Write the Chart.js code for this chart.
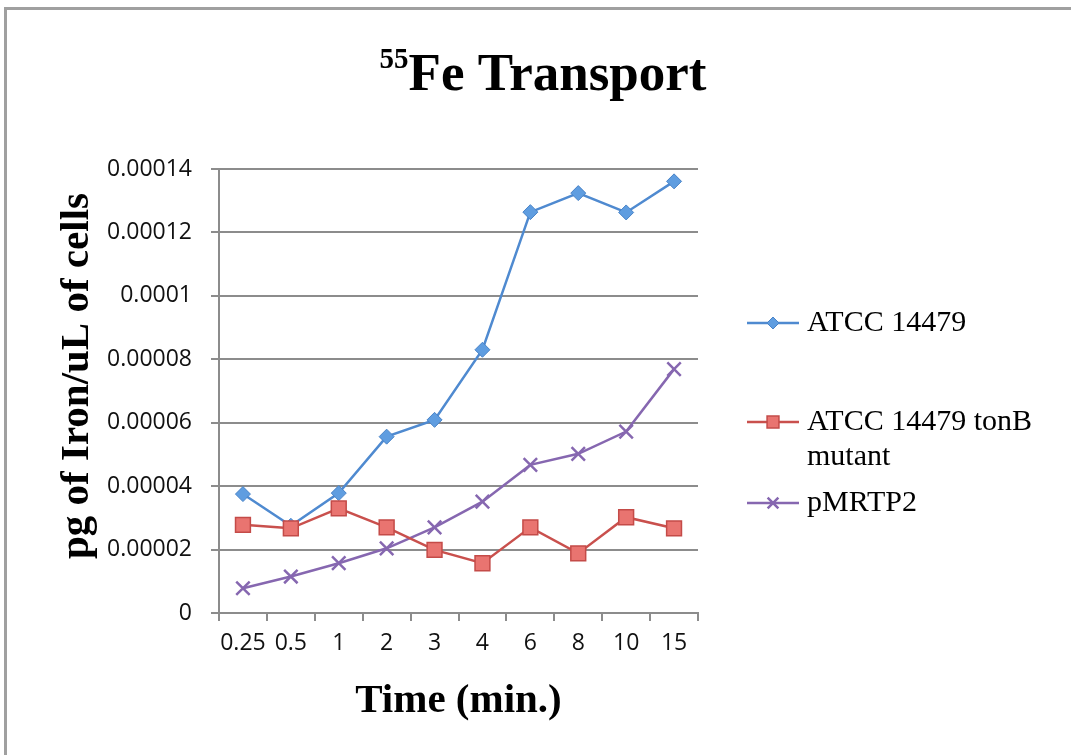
<!DOCTYPE html>
<html><head><meta charset="utf-8">
<script src="https://cdn.jsdelivr.net/npm/chart.js@4.4.1/dist/chart.umd.min.js"></script>
<style>html,body{margin:0;padding:0;background:#fff;}#wrap{width:1071px;height:755px;position:relative;}</style>
</head><body><div id="wrap"><canvas id="c" width="1071" height="755"></canvas></div>
<script>
const categories = ["0.25","0.5","1","2","3","4","6","8","10","15"];
const atcc14479 = [0.0000375,0.0000275,0.0000378,0.0000556,0.0000609,0.000083,0.0001264,0.0001324,0.0001263,0.0001361];
const tonBMutant = [0.0000278,0.0000267,0.000033,0.000027,0.0000199,0.0000157,0.000027,0.0000188,0.0000302,0.0000267];
const pMRTP2 = [0.0000078,0.0000115,0.0000157,0.0000204,0.000027,0.0000351,0.0000467,0.0000502,0.0000572,0.0000769];
const seriesNames = ["ATCC 14479","ATCC 14479 tonB mutant","pMRTP2"];
const legendLines = [["ATCC 14479"],["ATCC 14479 tonB","mutant"],["pMRTP2"]];
const yTickValues = [0,0.00002,0.00004,0.00006,0.00008,0.0001,0.00012,0.00014];
const yTickLabels = ["0","0.00002","0.00004","0.00006","0.00008","0.0001","0.00012","0.00014"];
const titleSup = "55";
const titleMain = "Fe Transport";
const xTitle = "Time (min.)";
const yTitle = "pg of Iron/uL of cells";

const GRID = '#8c8c8c';
const SERIF = "'Liberation Serif', 'Times New Roman', serif";
const SANS = "'Open Sans', 'Liberation Sans', sans-serif";

const frame = {
  id: 'frame',
  beforeDraw(chart) {
    const ctx = chart.ctx;
    ctx.save();
    ctx.fillStyle = '#fff';
    ctx.fillRect(0, 0, chart.width, chart.height);
    ctx.strokeStyle = '#a0a0a0';
    ctx.lineWidth = 3;
    ctx.beginPath();
    ctx.moveTo(5.5, chart.height + 2);
    ctx.lineTo(5.5, 8.5);
    ctx.lineTo(chart.width + 2, 8.5);
    ctx.stroke();
    ctx.restore();
  }
};

const titlePlugin = {
  id: 'supTitle',
  afterDraw(chart) {
    const ctx = chart.ctx;
    ctx.save();
    ctx.fillStyle = '#000';
    ctx.textBaseline = 'alphabetic';
    const supFont = 'bold 29px ' + SERIF;
    const mainFont = 'bold 53px ' + SERIF;
    ctx.font = supFont;
    const w1 = ctx.measureText(titleSup).width;
    ctx.font = mainFont;
    const w2 = ctx.measureText(titleMain).width;
    const x0 = 543 - (w1 + w2) / 2;
    ctx.font = supFont;
    ctx.textAlign = 'left';
    ctx.fillText(titleSup, x0, 68);
    ctx.font = mainFont;
    ctx.fillText(titleMain, x0 + w1, 90);
    // y axis title
    ctx.translate(88, 376);
    ctx.rotate(-Math.PI / 2);
    ctx.textAlign = 'center';
    ctx.font = 'bold 41px ' + SERIF;
    ctx.fillText(yTitle, 0, 0);
    ctx.restore();
  }
};

const legendPlugin = {
  id: 'sideLegend',
  afterDraw(chart) {
    const ctx = chart.ctx;
    const ys = [323, 422, 503];
    ctx.save();
    chart.data.datasets.forEach((ds, i) => {
      const y = ys[i];
      ctx.strokeStyle = ds.borderColor;
      ctx.lineWidth = ds.borderWidth;
      ctx.beginPath();
      ctx.moveTo(747, y);
      ctx.lineTo(799, y);
      ctx.stroke();
      ctx.fillStyle = ds.pointBackgroundColor;
      ctx.strokeStyle = ds.pointBorderColor;
      ctx.lineWidth = ds.pointBorderWidth;
      Chart.helpers.drawPoint(ctx, {pointStyle: ds.pointStyle, radius: ds.pointRadius * 0.8, rotation: 0, borderWidth: ds.pointBorderWidth}, 773, y);
      ctx.fillStyle = '#000';
      ctx.font = '30px ' + SERIF;
      ctx.textAlign = 'left';
      ctx.textBaseline = 'middle';
      legendLines[i].forEach((line, j) => {
        ctx.fillText(line, 807, y + j * 35);
      });
    });
    ctx.restore();
  }
};

new Chart(document.getElementById('c'), {
  type: 'line',
  data: {
    labels: categories,
    datasets: [
      {label: seriesNames[0], data: atcc14479, borderColor: '#4f8ad0', borderWidth: 2.5,
       pointStyle: 'rectRot', pointRadius: 7.5, pointBackgroundColor: '#5f9de0', pointBorderColor: '#4a84c8', pointBorderWidth: 1, order: 1},
      {label: seriesNames[1], data: tonBMutant, borderColor: '#c9504d', borderWidth: 2.5,
       pointStyle: 'rect', pointRadius: 10.5, pointBackgroundColor: '#e97470', pointBorderColor: '#c44b48', pointBorderWidth: 1.5, order: 0},
      {label: seriesNames[2], data: pMRTP2, borderColor: '#8667b0', borderWidth: 2.5,
       pointStyle: 'crossRot', pointRadius: 9.5, pointBackgroundColor: '#8667b0', pointBorderColor: '#8667b0', pointBorderWidth: 2.5, order: 2}
    ]
  },
  options: {
    responsive: false,
    animation: false,
    devicePixelRatio: 1,
    layout: {padding: {left: 0, top: 169, right: 373, bottom: 0}},
    plugins: {legend: {display: false}, title: {display: false}, tooltip: {enabled: false}},
    scales: {
      x: {
        type: 'category',
        offset: true,
        grid: {offset: true, drawOnChartArea: false, drawTicks: true, tickLength: 8, color: GRID, lineWidth: 2},
        border: {display: true, color: GRID, width: 2},
        ticks: {color: '#111', font: {family: SANS, size: 23}, padding: 9, maxRotation: 0, autoSkip: false},
        title: {display: true, text: xTitle, color: '#000', font: {family: SERIF, size: 41, weight: 'bold'}, padding: {top: 0, bottom: 29}},
        afterFit(s) { s.height = 142; }
      },
      y: {
        min: 0, max: 0.00014,
        afterBuildTicks(s) { s.ticks = yTickValues.map(v => ({value: v})); },
        grid: {color: GRID, lineWidth: 2, drawTicks: true, tickLength: 8},
        border: {display: true, color: GRID, width: 2},
        ticks: {color: '#111', font: {family: SANS, size: 23}, padding: 19,
                callback: (v, i) => yTickLabels[i]},
        title: {display: false},
        afterFit(s) { s.width = 219; }
      }
    }
  },
  plugins: [frame, titlePlugin, legendPlugin]
});
</script></body></html>
